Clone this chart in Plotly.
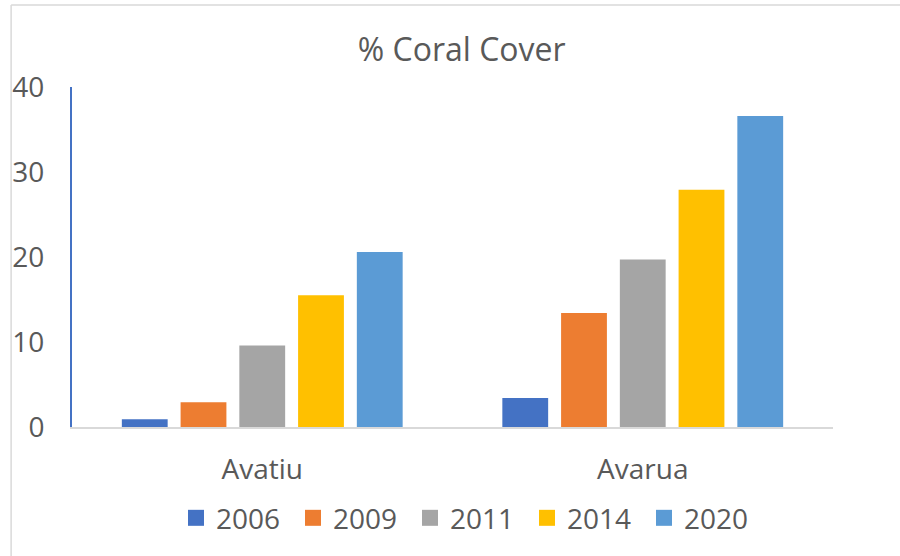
import plotly.graph_objects as go

# Data
sites = ["Avatiu", "Avarua"]
years = ["2006", "2009", "2011", "2014", "2020"]
cover_2006 = [0.9, 3.4]
cover_2009 = [2.9, 13.4]
cover_2011 = [9.6, 19.7]
cover_2014 = [15.5, 27.9]
cover_2020 = [20.6, 36.6]
y_ticks = [0, 10, 20, 30, 40]

COLOURS = ["#4472C4", "#ED7D31", "#A5A5A5", "#FFC000", "#5B9BD5"]
TEXT = "#595959"
FONT = "Open Sans"
FRAME = "#D9D9D9"

series = [cover_2006, cover_2009, cover_2011, cover_2014, cover_2020]

fig = go.Figure()
for i, (yr, vals) in enumerate(zip(years, series)):
    fig.add_trace(go.Bar(x=sites, y=vals, name=yr, showlegend=False,
                         marker=dict(color=COLOURS[i], line=dict(width=0))))
# legend-only entries so the swatches come out bigger than the bar default
for i, yr in enumerate(years):
    fig.add_trace(go.Scatter(x=[None], y=[None], name=yr, mode="markers",
                             marker=dict(symbol="square", size=17, color=COLOURS[i], line=dict(width=0))))

# chart frame: only top and left edges are inside the picture
frame = [
    dict(type="line", xref="paper", yref="paper", x0=-0.08, x1=1.2, y0=1.241, y1=1.241,
         line=dict(color=FRAME, width=1.5), layer="below"),
    dict(type="line", xref="paper", yref="paper", x0=-0.08, x1=-0.08, y0=-0.6, y1=1.241,
         line=dict(color=FRAME, width=1.5), layer="below"),
]

fig.update_layout(
    width=900, height=556,
    margin=dict(l=70, r=67, t=87, b=129),
    paper_bgcolor="white", plot_bgcolor="white",
    font=dict(family=FONT, color=TEXT, size=28),
    title=dict(text="% Coral Cover", x=0.513, xanchor="center", y=0.91, yanchor="middle",
               font=dict(family=FONT, size=32, color=TEXT)),
    barmode="group", bargap=0.228, bargroupgap=0.22,
    legend=dict(orientation="h", x=0.521, xanchor="center", y=-0.268, yanchor="middle",
                font=dict(size=28, color=TEXT), itemsizing="trace", entrywidth=72),
    shapes=frame,
)
fig.update_xaxes(showline=True, linecolor=FRAME, linewidth=1.5, ticks="",
                 showgrid=False, ticklabelstandoff=17,
                 tickfont=dict(size=28, color=TEXT))
fig.update_yaxes(range=[0, 40], tickvals=y_ticks, showline=True, linecolor="#4472C4", linewidth=2,
                 showgrid=False, zeroline=False, ticks="", ticklabelstandoff=20,
                 tickfont=dict(size=28, color=TEXT))

fig.write_html("out.html", config={"displayModeBar": False},
               post_script="document.body.style.margin='0';")
